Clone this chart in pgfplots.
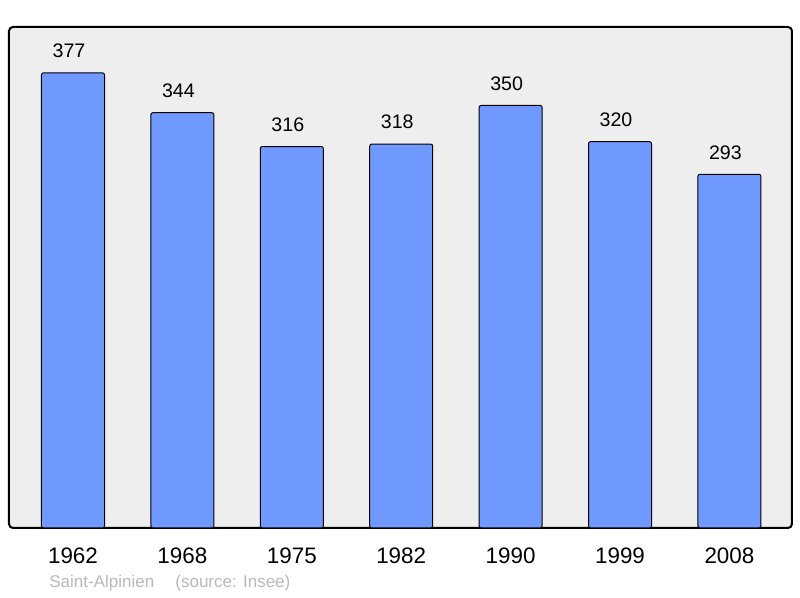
\documentclass[border=0pt]{standalone}
\usepackage{pgfplots}
\pgfplotsset{compat=1.18}
\usepackage{fontspec}
\setmainfont{Liberation Sans}
\definecolor{barblue}{RGB}{112,153,255}
\definecolor{panelgray}{RGB}{238,238,238}
\definecolor{footgray}{RGB}{185,185,185}
\begin{document}
\begin{tikzpicture}
\useasboundingbox (-4.5pt,-35pt) rectangle (395.5pt,264pt);
\begin{axis}[
  at={(0,0)}, anchor=south west,
  scale only axis,
  width=391.5pt, height=250.5pt,
  xmin=-0.585, xmax=6.572,
  ymin=0, ymax=415,
  axis line style={draw=none},
  axis background/.style={fill=panelgray, draw=black, line width=1pt, rounded corners=2pt},
  ytick=\empty,
  xtick={0,1,2,3,4,5,6},
  xticklabels={1962,1968,1975,1982,1990,1999,2008},
  major tick length=0pt,
  xticklabel style={font=\fontsize{11.2}{13}\selectfont, anchor=center, yshift=-14pt},
  ybar, bar width=0.576,
  nodes near coords,
  /pgf/number format/assume math mode=true,
  every node near coord/.append style={font=\fontsize{9.8}{11}\selectfont, anchor=center, yshift=11pt, xshift=-2pt, black},
  clip=false,
]
\addplot[fill=barblue, draw=black, line width=0.5pt, rounded corners=1pt] coordinates {
  (0,377) (1,344) (2,316) (3,318) (4,350) (5,320) (6,293)};
\end{axis}
\node[anchor=west, text=footgray, font=\fontsize{8.5}{10}\selectfont, inner sep=0pt] at (20pt,-27.5pt) {Saint-Alpinien};
\node[anchor=west, text=footgray, font=\fontsize{8.5}{10}\selectfont, inner sep=0pt] at (83pt,-27.5pt) {(source: Insee)};
\end{tikzpicture}
\end{document}
